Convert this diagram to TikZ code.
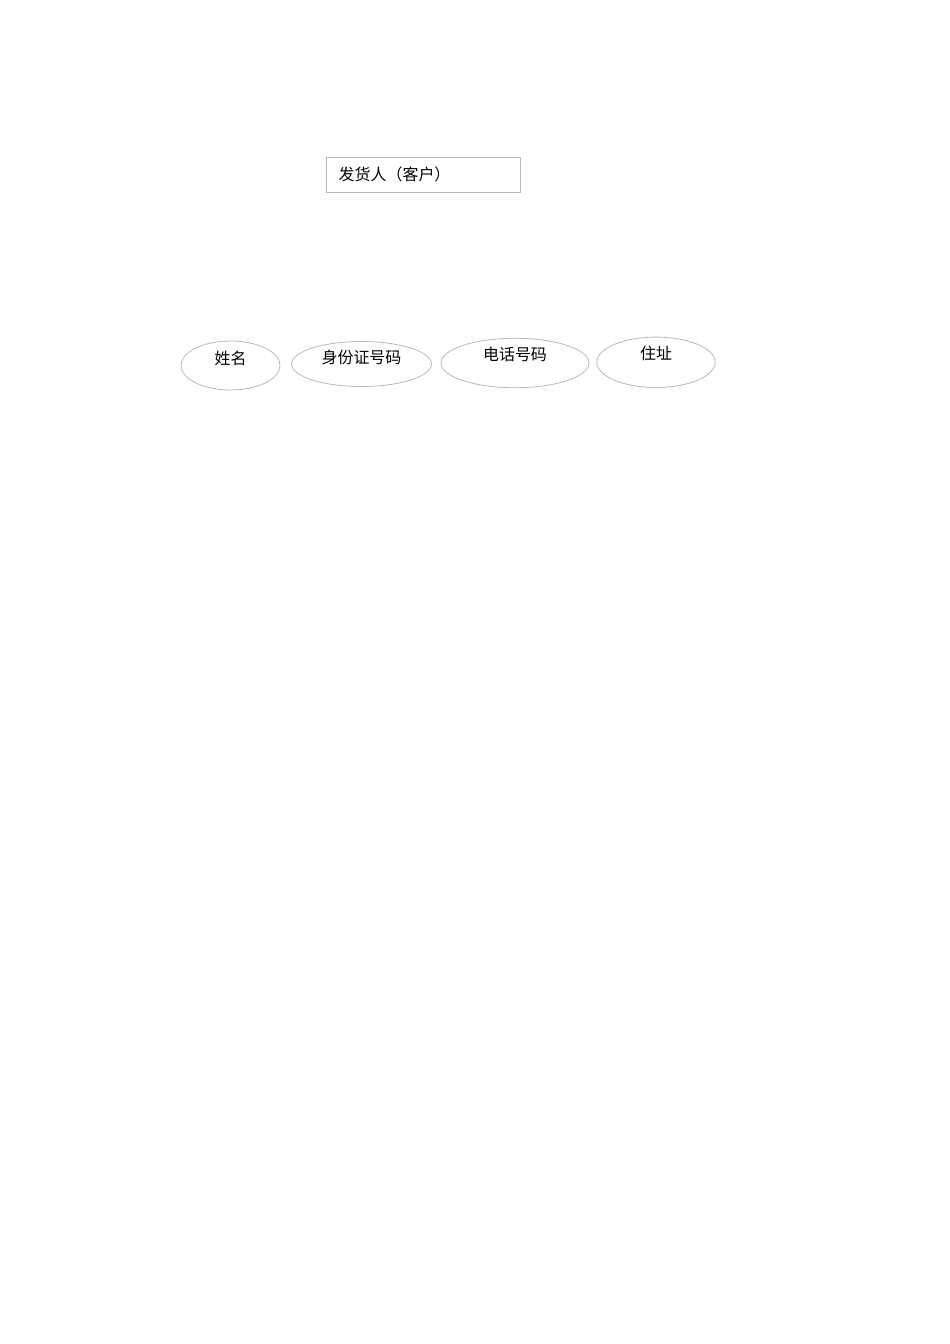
\documentclass[tikz,border=0pt]{standalone}
\usepackage{fontspec}
\setmainfont{Liberation Serif}
\newfontfamily\cjk{Noto Sans CJK SC}
\usetikzlibrary{positioning}
\usetikzlibrary{shapes.geometric}

\tikzset{
 entity/.style={draw=gray!55,line width=0.5pt,rectangle,minimum height=21.9pt,text width=105.6pt,inner xsep=8pt,align=left,font=\cjk\fontsize{10pt}{12pt}\selectfont},
 attrib/.style={draw=gray!55,line width=0.5pt,ellipse,inner sep=0pt}
}

\begin{document}
\begin{tikzpicture}[x=0.6266pt,y=-0.6266pt]
 \useasboundingbox (0,0) rectangle (950,1344);
 \node[entity] (shipper) at (423,174.5) {发货人（客户）};
 \node[attrib,minimum width=62pt,minimum height=30.7pt,label={[yshift=4.4pt,font=\cjk\fontsize{10pt}{12pt}\selectfont]center:姓名}] (name) at (230.5,365.5) {};
 \node[attrib,minimum width=87.7pt,minimum height=28.2pt,label={[yshift=3.8pt,font=\cjk\fontsize{10pt}{12pt}\selectfont]center:身份证号码}] (idno) at (361.5,364) {};
 \node[attrib,minimum width=92.7pt,minimum height=31pt,label={[yshift=5.6pt,font=\cjk\fontsize{10pt}{12pt}\selectfont]center:电话号码}] (phone) at (515,363) {};
 \node[attrib,minimum width=74.2pt,minimum height=31.6pt,label={[yshift=5.8pt,font=\cjk\fontsize{10pt}{12pt}\selectfont]center:住址}] (addr) at (656,362.3) {};
\end{tikzpicture}
\end{document}
